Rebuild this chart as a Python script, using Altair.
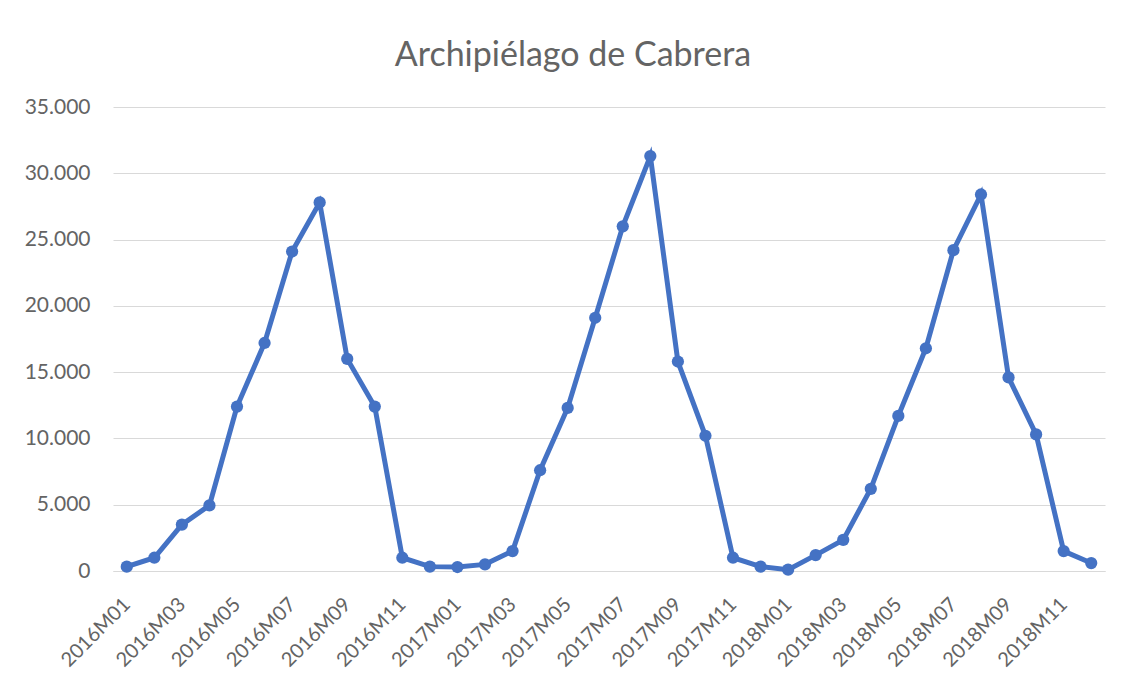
import altair as alt
import pandas as pd

months = [f"{y}M{m:02d}" for y in (2016, 2017, 2018) for m in range(1, 13)]
visitors = [
    330, 1000, 3500, 4950, 12400, 17200, 24100, 27800, 16000, 12400, 1000, 330,
    300, 500, 1500, 7600, 12300, 19100, 26000, 31300, 15800, 10200, 1000, 330,
    100, 1200, 2350, 6200, 11700, 16800, 24200, 28400, 14600, 10300, 1500, 600,
]
tick_labels = months[::2]
y_ticks = [0, 5000, 10000, 15000, 20000, 25000, 30000, 35000]

df = pd.DataFrame({"mes": months, "valor": visitors})

FONT = "Lato"
GRAY = "#646464"
BLUE = "#4472C4"

x = alt.X(
    "mes:N",
    sort=months,
    scale=alt.Scale(padding=0.5),
    axis=alt.Axis(
        values=tick_labels,
        labelAngle=-45,
        labelAlign="right",
        labelBaseline="middle",
        labelPadding=30,
        labelFontSize=20,
        labelColor=GRAY,
        labelFont=FONT,
        ticks=False,
        tickSize=0,
        domain=True,
        domainColor="#d9d9d9",
        grid=False,
        title=None,
    ),
)
y = alt.Y(
    "valor:Q",
    scale=alt.Scale(domain=[0, 35000], nice=False),
    axis=alt.Axis(
        values=y_ticks,
        labelExpr="replace(format(datum.value, ','), ',', '.')",
        labelPadding=23,
        labelFontSize=21,
        labelColor=GRAY,
        labelFont=FONT,
        ticks=False,
        tickSize=0,
        domain=False,
        grid=True,
        gridColor="#d9d9d9",
        gridWidth=1,
        title=None,
    ),
)

base = alt.Chart(df).encode(x=x, y=y)
line = base.mark_line(color=BLUE, strokeWidth=5)
pts = base.mark_point(filled=True, color=BLUE, size=150, opacity=1)

chart = (
    alt.layer(line, pts)
    .properties(
        width=992,
        height=464,
        autosize=alt.AutoSizeParams(type="none"),
        padding={"left": 105, "top": 99, "right": 19, "bottom": 107},
        title=alt.TitleParams(
            "Archipiélago de Cabrera",
            font=FONT,
            fontSize=34,
            fontWeight="normal",
            color=GRAY,
            anchor="middle",
            frame="group",
            dx=-36,
            offset=-4,
            baseline="alphabetic",
        ),
        background="white",
    )
    .configure_view(stroke=None)
)

chart.save("out.html", embed_options={"renderer": "svg", "actions": False})
